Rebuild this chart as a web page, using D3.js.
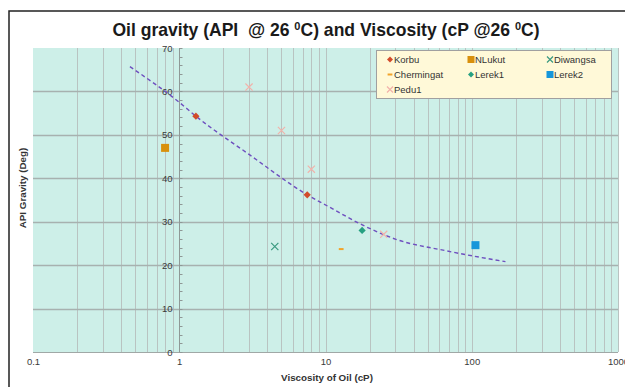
<!DOCTYPE html>
<html>
<head>
<meta charset="utf-8">
<script src="https://cdn.jsdelivr.net/npm/d3@7"></script>
<style>
  body { margin: 0; background: #fff; }
  text { font-family: "Liberation Sans", Arial, sans-serif; }
</style>
</head>
<body>
<div id="chart"></div>
<script>
// values
const xTicks = [0.1, 1, 10, 100, 1000];
const yTicks = [0, 10, 20, 30, 40, 50, 60, 70];
const seriesNames = ["Korbu", "NLukut", "Diwangsa", "Chermingat", "Lerek1", "Lerek2", "Pedu1"];
const korbu = [[1.3, 54.3], [7.5, 36.2]];
const nlukut = [[0.8, 47]];
const diwangsa = [[4.5, 24.3]];
const chermingat = [[12.8, 23.7]];
const lerek1 = [[17.8, 28.0]];
const lerek2 = [[106, 24.6]];
const pedu1 = [[3, 61], [5, 51], [8, 42.1], [25, 27.1]];
const trend = [[0.46, 65.7], [1, 57.5], [1.3, 54.3], [3, 45.5], [7.5, 36.2], [10.6, 33.4],
  [18, 29.2], [30, 26], [67, 23.3], [170, 20.8]];

const width = 625, height = 387;
const plot = { left: 33, right: 618, top: 48, bottom: 352 };

const svg = d3.select("#chart").append("svg")
  .attr("width", width)
  .attr("height", height);

const x = d3.scaleLog().domain([0.1, 1000]).range([plot.left, plot.right]);
const y = d3.scaleLinear().domain([0, 70]).range([plot.bottom, plot.top]);

// chart frame (cropped in the picture)
svg.append("rect")
  .attr("x", 9).attr("y", 11)
  .attr("width", 640).attr("height", 400)
  .attr("fill", "none")
  .attr("stroke", "#222")
  .attr("stroke-width", 1.5);

// plot area
svg.append("rect")
  .attr("x", plot.left).attr("y", plot.top)
  .attr("width", plot.right - plot.left).attr("height", plot.bottom - plot.top)
  .attr("fill", "#cdefe8");

// vertical grid on every log minor value
const minor = [];
for (let e = -1; e < 3; e++) {
  for (let m = 1; m < 10; m++) minor.push(m * Math.pow(10, e));
}
minor.push(1000);
svg.append("g")
  .selectAll("line")
  .data(minor.filter(d => d > 0.1))
  .join("line")
  .attr("x1", d => Math.round(x(d)) + 0.5)
  .attr("x2", d => Math.round(x(d)) + 0.5)
  .attr("y1", plot.top).attr("y2", plot.bottom)
  .attr("stroke", "#b9c3c1")
  .attr("stroke-width", 1);

// horizontal grid
svg.append("g")
  .selectAll("line")
  .data(yTicks.filter(d => d > 0 && d < 70))
  .join("line")
  .attr("x1", plot.left).attr("x2", plot.right)
  .attr("y1", d => Math.round(y(d)) + 0.5)
  .attr("y2", d => Math.round(y(d)) + 0.5)
  .attr("stroke", "#a7b1af")
  .attr("stroke-width", 1.3);

// bottom axis line
svg.append("line")
  .attr("x1", plot.left).attr("x2", plot.right)
  .attr("y1", plot.bottom + 0.5).attr("y2", plot.bottom + 0.5)
  .attr("stroke", "#a0a8a6");

// y axis crossing at x = 1
const xAxisAt = Math.round(x(1)) + 0.5;
svg.append("line")
  .attr("x1", xAxisAt).attr("x2", xAxisAt)
  .attr("y1", plot.top).attr("y2", plot.bottom)
  .attr("stroke", "#8f9896");
svg.append("g")
  .selectAll("line")
  .data(d3.range(0, 71, 2))
  .join("line")
  .attr("x1", xAxisAt).attr("x2", xAxisAt + 3)
  .attr("y1", d => Math.round(y(d)) + 0.5).attr("y2", d => Math.round(y(d)) + 0.5)
  .attr("stroke", "#8f9896");

const yAxis = svg.append("g")
  .attr("transform", `translate(${xAxisAt},0)`)
  .call(d3.axisLeft(y).tickValues(yTicks).tickSize(0).tickPadding(7).tickFormat(d3.format("d")));
yAxis.select(".domain").remove();
yAxis.selectAll("text").attr("font-size", 9.5).attr("fill", "#3a3a3a")
  .style("font-family", "'Liberation Sans', Arial, sans-serif");

const xAxis = svg.append("g")
  .attr("transform", `translate(0,${plot.bottom})`)
  .call(d3.axisBottom(x).tickValues(xTicks).tickSize(0).tickPadding(6).tickFormat(d3.format("~g")));
xAxis.select(".domain").remove();
xAxis.selectAll("text").attr("font-size", 9.5).attr("fill", "#3a3a3a")
  .style("font-family", "'Liberation Sans', Arial, sans-serif");

// axis titles
svg.append("text")
  .attr("x", 327).attr("y", 381)
  .attr("text-anchor", "middle")
  .attr("font-size", 9.8).attr("font-weight", "bold").attr("fill", "#333")
  .text("Viscosity of Oil (cP)");
svg.append("text")
  .attr("transform", "translate(26,188) rotate(-90)")
  .attr("text-anchor", "middle")
  .attr("font-size", 9.8).attr("font-weight", "bold").attr("fill", "#333")
  .text("API Gravity (Deg)");

// title
const title = svg.append("text")
  .attr("x", 326).attr("y", 36)
  .attr("text-anchor", "middle")
  .attr("font-size", 17).attr("font-weight", "bold").attr("fill", "#1a1a1a");
title.append("tspan").text("Oil gravity (API\u00a0 @ 26 ");
title.append("tspan").attr("font-size", 11).attr("dy", -6).text("0");
title.append("tspan").attr("dy", 6).text("C) and Viscosity (cP @26 ");
title.append("tspan").attr("font-size", 11).attr("dy", -6).text("0");
title.append("tspan").attr("dy", 6).text("C)");
const tw = title.node().getComputedTextLength();
title.attr("font-size", 17 * 428 / tw);

// trend line
const line = d3.line()
  .x(d => x(d[0]))
  .y(d => y(d[1]))
  .curve(d3.curveMonotoneX);
svg.append("path")
  .datum(trend)
  .attr("d", line)
  .attr("fill", "none")
  .attr("stroke", "#6e4fbf")
  .attr("stroke-width", 1.4)
  .attr("stroke-dasharray", "4,3");

// markers
const styles = {
  Korbu: { shape: "diamond", color: "#d24b2a", data: korbu },
  NLukut: { shape: "square", color: "#d8900c", data: nlukut },
  Diwangsa: { shape: "x", color: "#3a9a80", data: diwangsa },
  Chermingat: { shape: "dash", color: "#f2a42a", data: chermingat },
  Lerek1: { shape: "diamond", color: "#26a081", data: lerek1 },
  Lerek2: { shape: "square", color: "#1596da", data: lerek2 },
  Pedu1: { shape: "x", color: "#f2b2aa", data: pedu1 }
};

function drawMarker(g, shape, color, s) {
  if (shape === "diamond") {
    g.append("path").attr("d", `M0,${-s}L${s},0L0,${s}L${-s},0Z`).attr("fill", color);
  } else if (shape === "square") {
    g.append("rect").attr("x", -s).attr("y", -s).attr("width", 2 * s).attr("height", 2 * s).attr("fill", color);
  } else if (shape === "x") {
    g.append("path").attr("d", `M${-s},${-s}L${s},${s}M${-s},${s}L${s},${-s}`)
      .attr("stroke", color).attr("stroke-width", 1.2).attr("fill", "none");
  } else if (shape === "dash") {
    g.append("rect").attr("x", -s * 0.8).attr("y", -1).attr("width", s * 1.6).attr("height", 2).attr("fill", color);
  }
}

const sizes = { diamond: 3.6, square: 4, x: 3.6, dash: 3 };
seriesNames.forEach(name => {
  const st = styles[name];
  st.data.forEach(p => {
    const g = svg.append("g").attr("transform", `translate(${x(p[0])},${y(p[1])})`);
    drawMarker(g, st.shape, st.color, sizes[st.shape]);
  });
});

// legend
svg.append("rect")
  .attr("x", 376.5).attr("y", 50.5)
  .attr("width", 235).attr("height", 48)
  .attr("fill", "#fff9d8")
  .attr("stroke", "#a0a0a0");
const colX = [390, 471, 550];
const rowY = [59.5, 74.5, 89.5];
seriesNames.forEach((name, i) => {
  const st = styles[name];
  const cx = colX[i % 3], cy = rowY[Math.floor(i / 3)];
  const g = svg.append("g").attr("transform", `translate(${cx},${cy})`);
  drawMarker(g, st.shape, st.color, st.shape === "square" ? 3.5 : 3);
  svg.append("text")
    .attr("x", cx + 4).attr("y", cy + 3.5)
    .attr("font-size", 9.5).attr("fill", "#333")
    .text(name);
});
</script>
</body>
</html>
